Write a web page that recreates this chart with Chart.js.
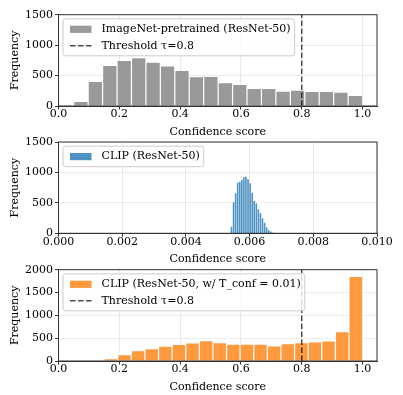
<!DOCTYPE html>
<html><head><meta charset="utf-8">
<script src="https://cdn.jsdelivr.net/npm/chart.js@4.4.1/dist/chart.umd.min.js"></script>
<style>
html,body{margin:0;padding:0;background:#fff;width:403px;height:395px;overflow:hidden;position:relative;}
canvas{position:absolute;left:0;}
</style></head><body>
<canvas id="c1" width="403" height="140" style="top:0px"></canvas>
<canvas id="c2" width="403" height="140" style="top:127px"></canvas>
<canvas id="c3" width="403" height="140" style="top:255px"></canvas>
<script>
// ---- data ----
const imagenetBins = [0.07375, 0.12125, 0.16875, 0.21625, 0.26375, 0.31125, 0.35875, 0.40625, 0.45375, 0.50125,
                      0.54875, 0.59625, 0.64375, 0.69125, 0.73875, 0.78625, 0.83375, 0.88125, 0.92875, 0.97625];
const imagenetCounts = [65, 394, 657, 739, 783, 712, 651, 575, 471, 476, 372, 345, 279, 279, 235, 252, 230, 230, 219, 164];

const clipBins = [0.005432, 0.005497, 0.005562, 0.005627, 0.005692, 0.005756, 0.005821, 0.005886, 0.005951, 0.006016,
                  0.006081, 0.006145, 0.006210, 0.006275, 0.006340, 0.006405, 0.006470, 0.006534, 0.006599, 0.006664, 0.006729];
const clipCounts = [108, 509, 657, 830, 847, 875, 920, 930, 887, 821, 666, 530, 492, 394, 328, 246, 174, 98, 54, 31, 10];

const clipTempBins = [0.1724, 0.2171, 0.2618, 0.3066, 0.3513, 0.3961, 0.4408, 0.4855, 0.5303, 0.5750,
                      0.6197, 0.6645, 0.7092, 0.7539, 0.7987, 0.8434, 0.8882, 0.9329, 0.9776];
const clipTempCounts = [40, 128, 215, 260, 314, 352, 382, 433, 388, 355, 355, 355, 317, 367, 388, 403, 426, 630, 1840];

const threshold = 0.8;
const scoreTicks = [0.0, 0.2, 0.4, 0.6, 0.8, 1.0];
const clipScoreTicks = [0.000, 0.002, 0.004, 0.006, 0.008, 0.010];
const freqTicks1500 = [0, 500, 1000, 1500];
const freqTicks2000 = [0, 500, 1000, 1500, 2000];

const labelImagenet = 'ImageNet-pretrained (ResNet-50)';
const labelClip = 'CLIP (ResNet-50)';
const labelClipTemp = 'CLIP (ResNet-50, w/ T_conf = 0.01)';
const labelThreshold = 'Threshold \u03c4=0.8';

// ---- styling ----
const FONT = "'DejaVu Serif', serif";
const FS = 11;
Chart.defaults.font.family = FONT;
Chart.defaults.font.size = FS;
Chart.defaults.color = '#000';

const GRID = '#e6e6e6';
const SPINE = '#333333';

const framePlugin = {
  id: 'frameBox',
  afterDatasetsDraw(chart) {
    const a = chart.chartArea, ctx = chart.ctx;
    ctx.save();
    ctx.strokeStyle = SPINE; ctx.lineWidth = 1;
    ctx.strokeRect(a.left, a.top, a.right - a.left, a.bottom - a.top);
    ctx.restore();
  }
};

const legendBoxPlugin = {
  id: 'legendBox',
  afterDraw(chart, args, opts) {
    const items = opts.items; if (!items) return;
    const ctx = chart.ctx, a = chart.chartArea;
    ctx.save();
    ctx.font = FS + 'px ' + FONT;
    let maxW = 0;
    items.forEach(it => { maxW = Math.max(maxW, ctx.measureText(it.text).width); });
    const left = a.left + 4.5, top = a.top + 4.2;
    const w = 38.5 + maxW + 4, h = 20.5 + 16.4 * (items.length - 1);
    ctx.beginPath();
    ctx.roundRect(left, top, w, h, 2.5);
    ctx.fillStyle = 'rgba(255,255,255,0.8)'; ctx.fill();
    ctx.strokeStyle = '#cccccc'; ctx.lineWidth = 1; ctx.stroke();
    items.forEach((it, i) => {
      const cy = top + 10.4 + i * 16.4;
      if (it.type === 'patch') {
        ctx.fillStyle = it.color;
        ctx.fillRect(left + 7, cy - 3.6, 21.5, 7.2);
      } else {
        ctx.strokeStyle = it.color; ctx.lineWidth = 1.5;
        ctx.setLineDash([5.6, 2.4]);
        ctx.beginPath(); ctx.moveTo(left + 7, cy); ctx.lineTo(left + 28.5, cy); ctx.stroke();
        ctx.setLineDash([]);
      }
      ctx.fillStyle = '#000'; ctx.textBaseline = 'middle'; ctx.textAlign = 'left';
      ctx.fillText(it.text, left + 38.5, cy);
    });
    ctx.restore();
  }
};

function makeChart(id, cfg) {
  const datasets = [];
  if (cfg.showThreshold) {
    datasets.push({
      type: 'line', label: labelThreshold, order: 0,
      data: [{x: threshold, y: 0}, {x: threshold, y: cfg.yTicks[cfg.yTicks.length - 1]}],
      borderColor: 'rgba(0,0,0,0.7)', borderWidth: 1.5, borderDash: [5.6, 2.4],
      pointRadius: 0, fill: false
    });
  }
  datasets.push({
    type: 'bar', label: cfg.label, order: 1,
    data: cfg.bins.map((b, i) => ({x: b, y: cfg.counts[i]})),
    backgroundColor: cfg.color, borderWidth: 0,
    categoryPercentage: 1, barPercentage: cfg.barPct
  });
  const legendItems = [{type: 'patch', color: cfg.color, text: cfg.label}];
  if (cfg.showThreshold) legendItems.push({type: 'line', color: 'rgba(0,0,0,0.7)', text: labelThreshold});

  const xt = cfg.xTicks, yt = cfg.yTicks;
  return new Chart(document.getElementById(id), {
    type: 'bar',
    data: {datasets},
    options: {
      responsive: false, animation: false, devicePixelRatio: 1,
      layout: {padding: {top: cfg.padTop, right: 26, left: 0, bottom: 0}},
      plugins: {legend: {display: false}, tooltip: {enabled: false}, legendBox: {items: legendItems}},
      scales: {
        x: {
          type: 'linear', min: xt[0], max: cfg.xMax, offset: false,
          grid: {offset: false, color: GRID, lineWidth: 0.8, tickColor: SPINE, tickLength: 3.5, tickWidth: 1},
          border: {color: SPINE, width: 1},
          afterBuildTicks: s => { s.ticks = xt.map(v => ({value: v})); },
          ticks: {autoSkip: false, maxRotation: 0, padding: -0.5, color: '#000',
                  font: {size: FS, lineHeight: 1}, callback: v => v.toFixed(cfg.xDec)},
          title: {display: true, text: 'Confidence score', color: '#000', font: {size: FS},
                  padding: {top: 0, bottom: 1.1}},
          afterFit: s => { s.height = cfg.xAxisH; }
        },
        y: {
          type: 'linear', min: 0, max: yt[yt.length - 1],
          grid: {color: GRID, lineWidth: 0.8, tickColor: SPINE, tickLength: 3.5, tickWidth: 1},
          border: {color: SPINE, width: 1},
          afterBuildTicks: s => { s.ticks = yt.map(v => ({value: v})); },
          ticks: {padding: 2, color: '#000', font: {size: FS}, callback: v => String(v)},
          title: {display: true, text: 'Frequency', color: '#000', font: {size: FS},
                  padding: {top: 8.9, bottom: 0}},
          afterFit: s => { s.width = 58.5; }
        }
      }
    },
    plugins: [framePlugin, legendBoxPlugin]
  });
}

makeChart('c1', {bins: imagenetBins, counts: imagenetCounts, color: '#999999', label: labelImagenet,
  showThreshold: true, xTicks: scoreTicks, xMax: 1.0475, xDec: 1, yTicks: freqTicks1500,
  barPct: 0.915, padTop: 14.7, xAxisH: 34});
makeChart('c2', {bins: clipBins, counts: clipCounts, color: '#4c92c3', label: labelClip,
  showThreshold: false, xTicks: clipScoreTicks, xMax: 0.010, xDec: 3, yTicks: freqTicks1500,
  barPct: 0.78, padTop: 15, xAxisH: 33.7});
makeChart('c3', {bins: clipTempBins, counts: clipTempCounts, color: '#ff993e', label: labelClipTemp,
  showThreshold: true, xTicks: scoreTicks, xMax: 1.0475, xDec: 1, yTicks: freqTicks2000,
  barPct: 0.91, padTop: 14.7, xAxisH: 34});
</script>
</body></html>
